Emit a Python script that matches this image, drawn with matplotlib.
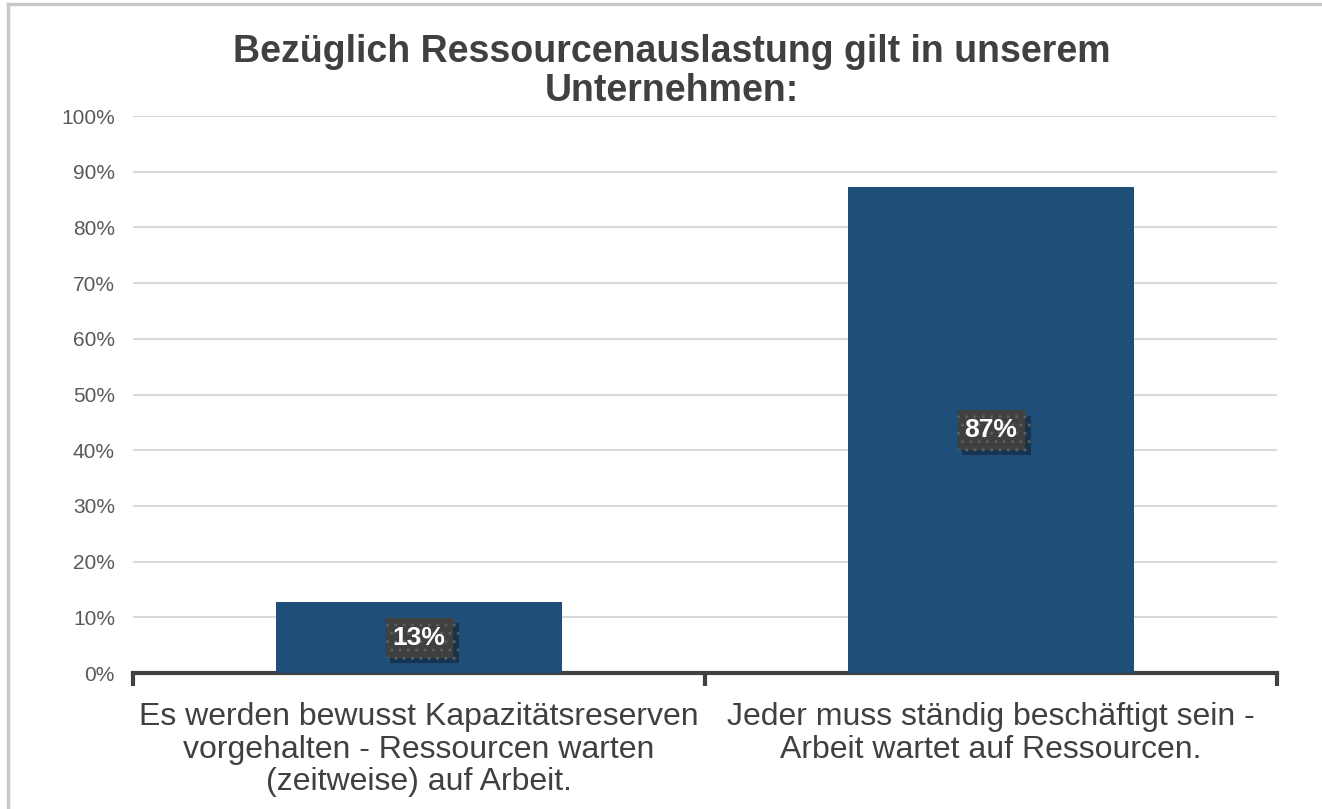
import matplotlib.pyplot as plt
import matplotlib.patheffects as pe
from matplotlib.lines import Line2D

categories = [
    "Es werden bewusst Kapazitätsreserven\nvorgehalten - Ressourcen warten\n(zeitweise) auf Arbeit.",
    "Jeder muss ständig beschäftigt sein -\nArbeit wartet auf Ressourcen.",
]
values = [12.7, 87.3]
labels = ["13%", "87%"]
title = "Bezüglich Ressourcenauslastung gilt in unserem\nUnternehmen:"

plt.rcParams['font.family'] = ['Liberation Sans', 'DejaVu Sans']
plt.rcParams['hatch.color'] = '#5e5e5e'

fig = plt.figure(figsize=(13.22, 8.09), dpi=100)
ax = fig.add_axes([0.1006, 0.168, 0.8654, 0.6886])

# light gray frame on top and left like the original export
fig.add_artist(Line2D([8 / 1322, 8 / 1322], [0, 1 - 4 / 809], transform=fig.transFigure,
                      color='#c8c8c8', linewidth=2.5))
fig.add_artist(Line2D([8 / 1322, 1], [1 - 4 / 809, 1 - 4 / 809], transform=fig.transFigure,
                      color='#c8c8c8', linewidth=2.5))

x = range(len(values))
ax.bar(x, values, width=0.5, color='#1f4e79', zorder=3)

for xi, v, lab in zip(x, values, labels):
    t = ax.text(xi, v / 2, lab, ha='center', va='center', color='white',
                fontsize=19, fontweight='bold', zorder=5,
                bbox=dict(boxstyle='square,pad=0.3', facecolor='#404040',
                          edgecolor='#5e5e5e', hatch='..', linewidth=0))
    t.get_bbox_patch().set_path_effects([
        pe.SimplePatchShadow(offset=(4, -4), shadow_rgbFace='#0f2438', alpha=0.6),
        pe.Normal()])

ax.set_xlim(-0.5, 1.5)
ax.set_ylim(0, 100)
ax.set_yticks(range(0, 101, 10))
ax.set_yticklabels([f"{v}%" for v in range(0, 101, 10)])
ax.yaxis.grid(True, color='#d9d9d9', linewidth=1.5, zorder=0)
ax.set_axisbelow(True)
ax.tick_params(axis='y', length=0, labelsize=15, labelcolor='#595959', pad=13)

ax.set_xticks([-0.5, 0.5, 1.5])
ax.set_xticklabels([])
ax.set_xticks([0, 1], minor=True)
ax.set_xticklabels(categories, minor=True, fontsize=23, color='#404040', linespacing=1.1)
ax.tick_params(axis='x', which='major', length=9, width=3, color='#404040', direction='out')
ax.tick_params(axis='x', which='minor', length=0, pad=21)

for s in ['top', 'right', 'left']:
    ax.spines[s].set_visible(False)
ax.spines['bottom'].set_color('#404040')
ax.spines['bottom'].set_linewidth(3)

fig.text(0.508, 0.912, title, ha='center', va='center', fontsize=27, fontweight='bold',
         color='#404040', linespacing=1.12)

fig.savefig("out.png", dpi=100)
